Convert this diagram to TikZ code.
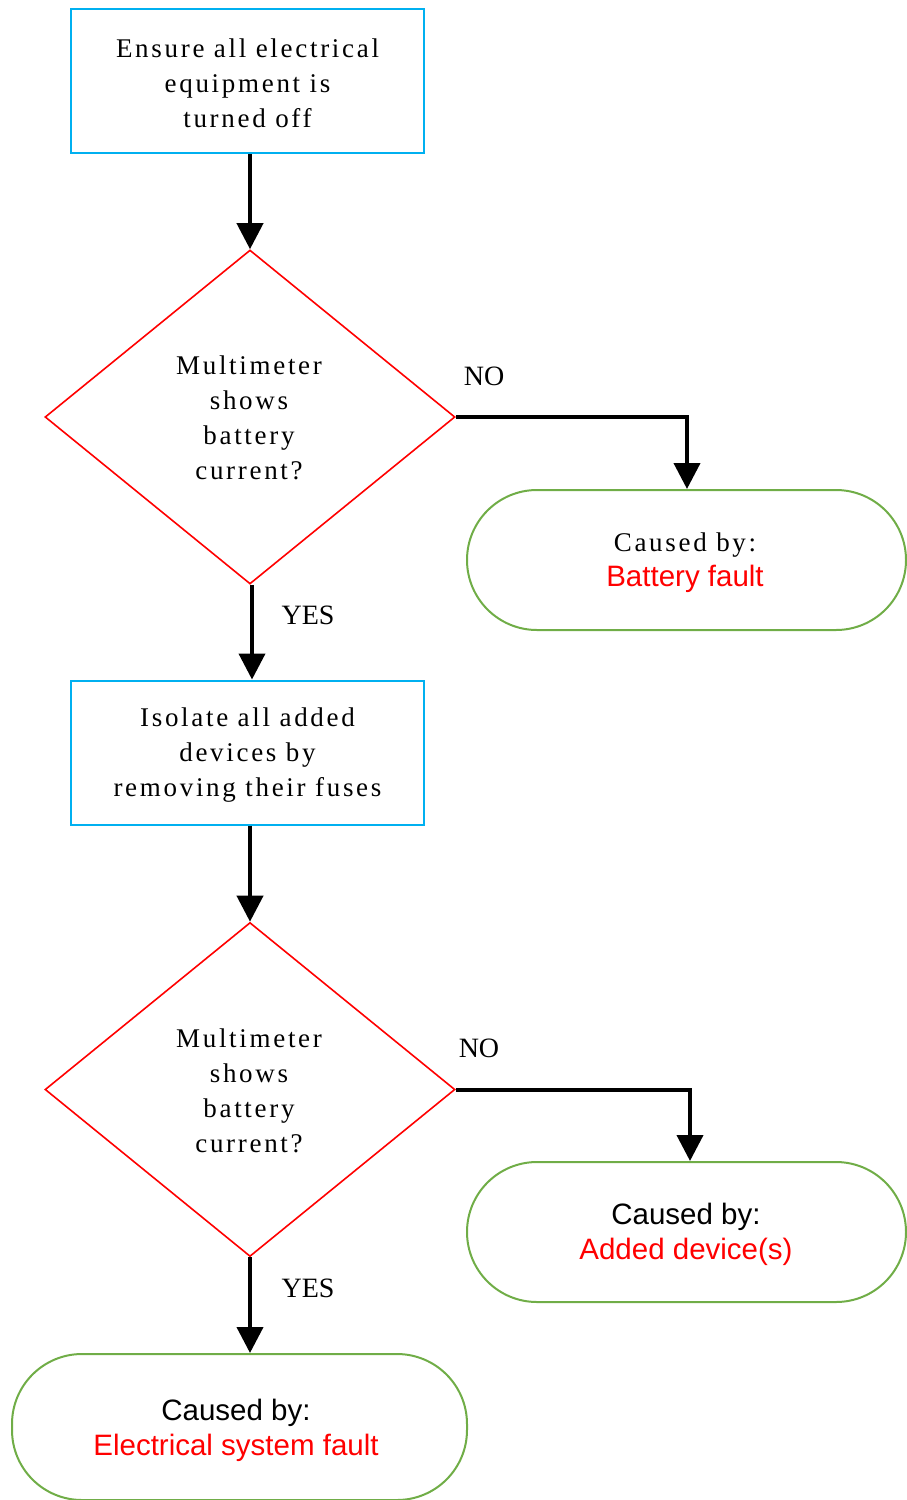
\documentclass[tikz,border=0pt]{standalone}
\usepackage{fontspec}
\setmainfont{Liberation Serif}
\newfontfamily\spserif{Liberation Serif}[LetterSpace=10]
\newfontfamily\arialfont{Liberation Sans}
\usetikzlibrary{shapes.geometric,arrows.meta}
\definecolor{boxblue}{RGB}{0,176,240}
\definecolor{termgreen}{RGB}{112,173,71}
\definecolor{faultred}{RGB}{255,0,0}
\begin{document}
\begin{tikzpicture}[x=1pt,y=-1pt,
  procbox/.style={draw=boxblue,line width=2pt,minimum width=353pt,minimum height=144pt,inner sep=0pt},
  decide/.style={draw=faultred,line width=1.6pt,diamond,aspect=1.228,minimum width=410pt,minimum height=334pt,inner sep=0pt},
  term/.style={draw=termgreen,line width=2pt,rounded corners=70pt,minimum width=439pt,minimum height=140pt,inner sep=0pt},
  sertext/.style={align=center,inner sep=0pt,font=\spserif\fontsize{27}{35}\selectfont},
  termtext/.style={align=center,inner sep=0pt,font=\fontsize{29.5}{35}\selectfont},
  flow/.style={line width=4pt,-{Triangle[width=26pt,length=26pt]}},
  lbl/.style={font=\fontsize{28}{32}\selectfont,inner sep=0pt}]
\useasboundingbox (0,0) rectangle (906,1500);
% shapes
\node[procbox] (b1) at (247.5,81) {};
\node[decide] (d1) at (250,417) {};
\node[term] (t1) at (686.5,560) {};
\node[procbox] (b2) at (247.5,752.5) {};
\node[decide] (d2) at (250,1089.5) {};
\node[term] (t2) at (686.5,1232) {};
\node[term,minimum width=455pt,minimum height=146pt] (t3) at (239.5,1427) {};
% texts
\node[sertext] (b1txt) at (247.5,83) {Ensure all electrical\\equipment is\\turned off};
\node[sertext] (d1txt) at (249,418) {Multimeter\\shows\\battery\\current?};
\node[termtext] (t1txt) at (685,563) {{\spserif\fontsize{27}{35}\selectfont Caused by:}\\{\arialfont\color{faultred}Battery fault}};
\node[sertext] (b2txt) at (247.5,755) {Isolate all added\\devices by\\removing their fuses};
\node[sertext] (d2txt) at (249,1091) {Multimeter\\shows\\battery\\current?};
\node[termtext] (t2txt) at (686,1234) {{\arialfont Caused by:}\\{\arialfont\color{faultred}Added device(s)}};
\node[termtext] (t3txt) at (236,1430) {{\arialfont Caused by:}\\{\arialfont\color{faultred}Electrical system fault}};
\node[lbl] (no1) at (484,376) {NO};
\node[lbl] (yes1) at (308,615) {YES};
\node[lbl] (no2) at (479,1048) {NO};
\node[lbl] (yes2) at (308,1288) {YES};
\coordinate (c1) at (687,417);
\coordinate (c2) at (690,1089.5);
\draw[flow] (d1.north |- b1.south) -- (d1.north);
\draw[flow] (d1.east) -- (c1) -- (c1 |- t1.north);
\draw[flow] ([xshift=2pt]d1.south) -- ([xshift=2pt]d1.south |- b2.north);
\draw[flow] (d2.north |- b2.south) -- (d2.north);
\draw[flow] (d2.east) -- (c2) -- (c2 |- t2.north);
\draw[flow] (d2.south) -- (d2.south |- t3.north);
\end{tikzpicture}
\end{document}
